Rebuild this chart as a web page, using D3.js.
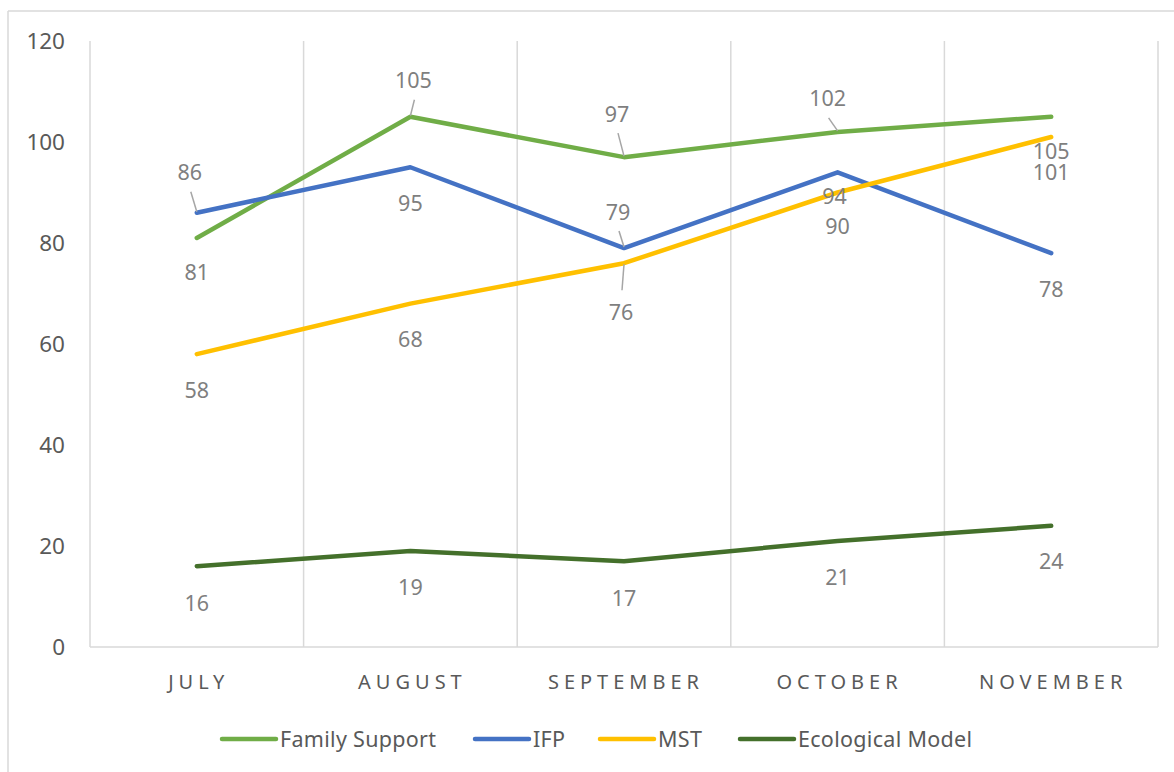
<!DOCTYPE html>
<html>
<head>
<meta charset="utf-8">
<script src="https://cdn.jsdelivr.net/npm/d3@7"></script>
<style>
	body { margin: 0; background: #fff; }
	svg { display: block; font-family: "Noto Sans", "Open Sans", sans-serif; }
</style>
</head>
<body>
<svg id="chart" width="1174" height="772"></svg>
<script>
// Data
const months = ["JULY", "AUGUST", "SEPTEMBER", "OCTOBER", "NOVEMBER"];
const yTicks = [0, 20, 40, 60, 80, 100, 120];
const familySupport = [81, 105, 97, 102, 105];
const ifp = [86, 95, 79, 94, 78];
const mst = [58, 68, 76, 90, 101];
const ecological = [16, 19, 17, 21, 24];

const series = [
	{ name: "Family Support", values: familySupport, color: "#70AD47" },
	{ name: "IFP", values: ifp, color: "#4472C4" },
	{ name: "MST", values: mst, color: "#FFC000" },
	{ name: "Ecological Model", values: ecological, color: "#44702B" }
];

// label placement (px offsets from the point, third item = draw a leader line)
const labelPlacement = {
	"Family Support": [[0, 35], [3, -36, 1], [-7, -43, 1], [-10, -33, 1], [0, 35]],
	"IFP": [[-7, -40, 1], [0, 36], [-6, -36, 1], [-3, 24], [0, 36]],
	"MST": [[0, 36], [0, 36], [-3, 49, 1], [0, 34], [0, 36]],
	"Ecological Model": [[0, 37], [0, 36], [0, 37], [0, 37], [0, 36]]
};

////////////////////////////////////////////////////////////
//// Setup /////////////////////////////////////////////////
////////////////////////////////////////////////////////////
const svg = d3.select("#chart");
const plot = { left: 90, right: 1158, top: 41, bottom: 647 };

const x = d3.scaleBand().domain(months).range([plot.left, plot.right]).padding(0);
const y = d3.scaleLinear().domain([0, 120]).range([plot.bottom, plot.top]);
const cx = m => x(m) + x.bandwidth() / 2;

// chart border (top and left only visible)
svg.append("line").attr("x1", 8).attr("x2", 1174).attr("y1", 11).attr("y2", 11)
	.attr("stroke", "#D9D9D9").attr("stroke-width", 1.5);
svg.append("line").attr("x1", 8).attr("x2", 8).attr("y1", 11).attr("y2", 772)
	.attr("stroke", "#D9D9D9").attr("stroke-width", 1.5);

// vertical gridlines at category boundaries
const bounds = months.map(m => x(m)).concat([x(months[months.length - 1]) + x.bandwidth()]);
svg.append("g").selectAll("line").data(bounds).join("line")
	.attr("x1", d => d).attr("x2", d => d)
	.attr("y1", plot.top).attr("y2", plot.bottom)
	.attr("stroke", "#D9D9D9").attr("stroke-width", 1.5);

// baseline
svg.append("line").attr("x1", plot.left).attr("x2", plot.right)
	.attr("y1", y(0)).attr("y2", y(0))
	.attr("stroke", "#D9D9D9").attr("stroke-width", 1.5);

// y axis labels
svg.append("g").selectAll("text").data(yTicks).join("text")
	.attr("x", 65).attr("y", d => y(d)).attr("dy", "0.35em")
	.attr("text-anchor", "end").attr("fill", "#595959").attr("font-size", 22.5)
	.text(d => d);

// x axis labels
svg.append("g").selectAll("text").data(months).join("text")
	.attr("x", d => cx(d) + 2).attr("y", 682).attr("dy", "0.35em")
	.attr("text-anchor", "middle").attr("fill", "#595959").attr("font-size", 20)
	.attr("letter-spacing", 5)
	.text(d => d);

// lines
const line = d3.line().x((d, i) => cx(months[i])).y(d => y(d));
svg.append("g").selectAll("path").data(series).join("path")
	.attr("fill", "none").attr("stroke", d => d.color).attr("stroke-width", 4.5)
	.attr("stroke-linejoin", "round").attr("stroke-linecap", "round")
	.attr("d", d => line(d.values));

// data labels with leader lines
const labels = series.flatMap(s => s.values.map((v, i) => {
	const p = labelPlacement[s.name][i];
	return { v, px: cx(months[i]), py: y(v), dx: p[0], dy: p[1], leader: !!p[2] };
}));
const lg = svg.append("g");
lg.selectAll("line").data(labels.filter(d => d.leader)).join("line")
	.attr("x1", d => d.px + d.dx + 1)
	.attr("y1", d => d.py + d.dy + (d.dy < 0 ? 19 : -22))
	.attr("x2", d => d.px).attr("y2", d => d.py + (d.dy < 0 ? -1 : 1))
	.attr("stroke", "#A6A6A6").attr("stroke-width", 1.5);
lg.selectAll("text").data(labels).join("text")
	.attr("x", d => d.px + d.dx).attr("y", d => d.py + d.dy).attr("dy", "0.35em")
	.attr("text-anchor", "middle").attr("fill", "#7F7F7F").attr("font-size", 21.5)
	.text(d => d.v);

// legend
const legendX = [222, 475, 600, 740];
const legend = svg.append("g").selectAll("g").data(series).join("g")
	.attr("transform", (d, i) => `translate(${legendX[i]},739)`);
legend.append("line").attr("x1", 0).attr("x2", 54)
	.attr("stroke", d => d.color).attr("stroke-width", 4.5).attr("stroke-linecap", "round");
legend.append("text").attr("x", 58).attr("dy", "0.35em")
	.attr("fill", "#595959").attr("font-size", 21.5).attr("letter-spacing", 0.3)
	.text(d => d.name);
</script>
</body>
</html>
